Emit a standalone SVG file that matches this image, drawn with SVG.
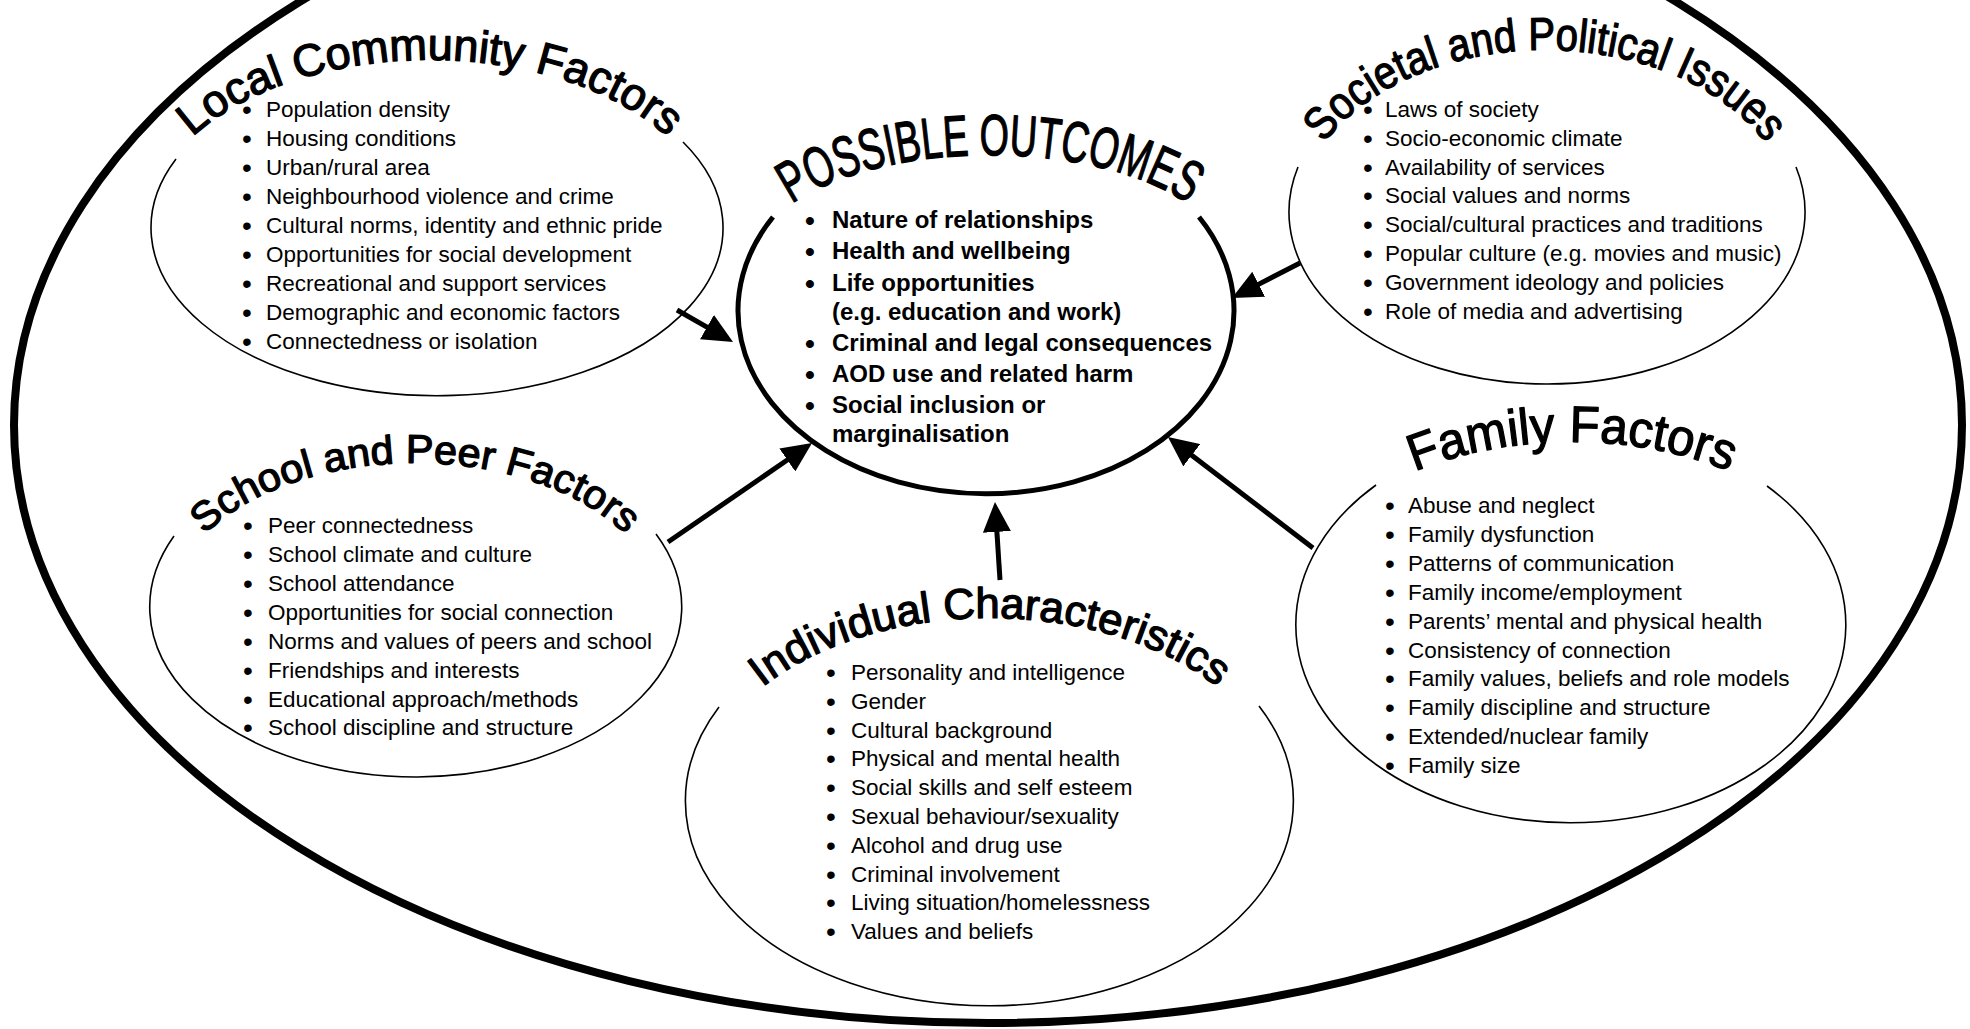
<svg xmlns="http://www.w3.org/2000/svg" width="1970" height="1029" viewBox="0 0 1970 1029">
<defs>
<style>
text{font-family:"Liberation Sans",Arial,sans-serif;fill:#000}
.li{font-size:22.5px}
.lb{font-size:24px;font-weight:bold}
.bu{font-size:28px}
.ttl{stroke:#000;stroke-width:1.3;stroke-linejoin:round}
.thin{fill:none;stroke:#000;stroke-width:1.6}
.thick{fill:none;stroke:#000;stroke-width:5}
.outer{fill:none;stroke:#000;stroke-width:8}
.arrow{stroke:#000;stroke-width:5;fill:none;marker-end:url(#ah)}
</style>
<marker id="ah" markerUnits="userSpaceOnUse" markerWidth="30" markerHeight="28" viewBox="0 0 30 28" refX="3" refY="14" orient="auto"><path d="M0,0L30,14L0,28z" fill="#000"/></marker>
<path id="pL" d="M145,232 A285,172 0 0 1 715,232"/>
<path id="pO" d="M750,267 A240,112 0 0 1 1230,267"/>
<path id="pS" d="M1295,225 A250,175 0 0 1 1795,225"/>
<path id="pSc" d="M165,618 A250,155 0 0 1 665,618"/>
<path id="pF" d="M1272,640 A300,198 0 0 1 1872,640"/>
<path id="pI" d="M700,800 A290,182 0 0 1 1280,800"/>
</defs>
<rect width="1970" height="1029" fill="#fff"/>
<g id="context">
<ellipse class="outer" cx="988" cy="425" rx="974" ry="598"/>
</g>
<g id="connectors">
<line class="arrow" x1="677" y1="310" x2="709.6" y2="328.6"/>
<line class="arrow" x1="668" y1="542" x2="789.8" y2="458.3"/>
<line class="arrow" x1="1000" y1="580" x2="996.7" y2="528.9"/>
<line class="arrow" x1="1300" y1="263" x2="1256" y2="285.6"/>
<line class="arrow" x1="1313" y1="548" x2="1189.4" y2="453.4"/>
</g>
<g id="outcomes">
<path class="thick" d="M773,217 A248,183 0 1 0 1199,217"/>
<text class="ttl" font-size="58" text-anchor="middle"><textPath href="#pO" startOffset="50%" textLength="414" lengthAdjust="spacingAndGlyphs">POSSIBLE OUTCOMES</textPath></text>
<g class="lb">
<text y="228"><tspan class="bu" x="805" dy="2">•</tspan><tspan x="832" dy="-2">Nature of relationships</tspan></text>
<text y="259"><tspan class="bu" x="805" dy="2">•</tspan><tspan x="832" dy="-2">Health and wellbeing</tspan></text>
<text y="291"><tspan class="bu" x="805" dy="2">•</tspan><tspan x="832" dy="-2">Life opportunities</tspan></text>
<text y="320" x="832">(e.g. education and work)</text>
<text y="351"><tspan class="bu" x="805" dy="2">•</tspan><tspan x="832" dy="-2">Criminal and legal consequences</tspan></text>
<text y="382"><tspan class="bu" x="805" dy="2">•</tspan><tspan x="832" dy="-2">AOD use and related harm</tspan></text>
<text y="413"><tspan class="bu" x="805" dy="2">•</tspan><tspan x="832" dy="-2">Social inclusion or</tspan></text>
<text y="442" x="832">marginalisation</text>
</g>
</g>
<g id="local">
<path class="thin" d="M176,159 A286,168 0 1 0 683,142"/>
<text class="ttl" font-size="45" text-anchor="middle"><textPath href="#pL" startOffset="50%" textLength="510" lengthAdjust="spacingAndGlyphs">Local Community Factors</textPath></text>
<g class="li">
<text y="117"><tspan class="bu" x="242" dy="2">•</tspan><tspan x="266" dy="-2">Population density</tspan></text>
<text y="146"><tspan class="bu" x="242" dy="2">•</tspan><tspan x="266" dy="-2">Housing conditions</tspan></text>
<text y="175"><tspan class="bu" x="242" dy="2">•</tspan><tspan x="266" dy="-2">Urban/rural area</tspan></text>
<text y="204"><tspan class="bu" x="242" dy="2">•</tspan><tspan x="266" dy="-2">Neighbourhood violence and crime</tspan></text>
<text y="233"><tspan class="bu" x="242" dy="2">•</tspan><tspan x="266" dy="-2">Cultural norms, identity and ethnic pride</tspan></text>
<text y="262"><tspan class="bu" x="242" dy="2">•</tspan><tspan x="266" dy="-2">Opportunities for social development</tspan></text>
<text y="291"><tspan class="bu" x="242" dy="2">•</tspan><tspan x="266" dy="-2">Recreational and support services</tspan></text>
<text y="320"><tspan class="bu" x="242" dy="2">•</tspan><tspan x="266" dy="-2">Demographic and economic factors</tspan></text>
<text y="349"><tspan class="bu" x="242" dy="2">•</tspan><tspan x="266" dy="-2">Connectedness or isolation</tspan></text>
</g>
</g>
<g id="societal">
<path class="thin" d="M1298,167 A258,172 0 1 0 1796,167"/>
<text class="ttl" font-size="46" text-anchor="middle"><textPath href="#pS" startOffset="50%" textLength="496" lengthAdjust="spacingAndGlyphs">Societal and Political Issues</textPath></text>
<g class="li">
<text y="117"><tspan class="bu" x="1363" dy="2">•</tspan><tspan x="1385" dy="-2">Laws of society</tspan></text>
<text y="146"><tspan class="bu" x="1363" dy="2">•</tspan><tspan x="1385" dy="-2">Socio-economic climate</tspan></text>
<text y="175"><tspan class="bu" x="1363" dy="2">•</tspan><tspan x="1385" dy="-2">Availability of services</tspan></text>
<text y="203"><tspan class="bu" x="1363" dy="2">•</tspan><tspan x="1385" dy="-2">Social values and norms</tspan></text>
<text y="232"><tspan class="bu" x="1363" dy="2">•</tspan><tspan x="1385" dy="-2">Social/cultural practices and traditions</tspan></text>
<text y="261"><tspan class="bu" x="1363" dy="2">•</tspan><tspan x="1385" dy="-2">Popular culture (e.g. movies and music)</tspan></text>
<text y="290"><tspan class="bu" x="1363" dy="2">•</tspan><tspan x="1385" dy="-2">Government ideology and policies</tspan></text>
<text y="319"><tspan class="bu" x="1363" dy="2">•</tspan><tspan x="1385" dy="-2">Role of media and advertising</tspan></text>
</g>
</g>
<g id="school">
<path class="thin" d="M174,536 A266,170 0 1 0 656,534"/>
<text class="ttl" font-size="40" text-anchor="middle"><textPath href="#pSc" startOffset="50%" textLength="455" lengthAdjust="spacingAndGlyphs">School and Peer Factors</textPath></text>
<g class="li">
<text y="533"><tspan class="bu" x="243" dy="2">•</tspan><tspan x="268" dy="-2">Peer connectedness</tspan></text>
<text y="562"><tspan class="bu" x="243" dy="2">•</tspan><tspan x="268" dy="-2">School climate and culture</tspan></text>
<text y="591"><tspan class="bu" x="243" dy="2">•</tspan><tspan x="268" dy="-2">School attendance</tspan></text>
<text y="620"><tspan class="bu" x="243" dy="2">•</tspan><tspan x="268" dy="-2">Opportunities for social connection</tspan></text>
<text y="649"><tspan class="bu" x="243" dy="2">•</tspan><tspan x="268" dy="-2">Norms and values of peers and school</tspan></text>
<text y="678"><tspan class="bu" x="243" dy="2">•</tspan><tspan x="268" dy="-2">Friendships and interests</tspan></text>
<text y="707"><tspan class="bu" x="243" dy="2">•</tspan><tspan x="268" dy="-2">Educational approach/methods</tspan></text>
<text y="735"><tspan class="bu" x="243" dy="2">•</tspan><tspan x="268" dy="-2">School discipline and structure</tspan></text>
</g>
</g>
<g id="family">
<path class="thin" d="M1376,485 A275,198 0 1 0 1767,486"/>
<text class="ttl" font-size="51" text-anchor="middle"><textPath href="#pF" startOffset="50%" textLength="322" lengthAdjust="spacingAndGlyphs">Family Factors</textPath></text>
<g class="li">
<text y="513"><tspan class="bu" x="1385" dy="2">•</tspan><tspan x="1408" dy="-2">Abuse and neglect</tspan></text>
<text y="542"><tspan class="bu" x="1385" dy="2">•</tspan><tspan x="1408" dy="-2">Family dysfunction</tspan></text>
<text y="571"><tspan class="bu" x="1385" dy="2">•</tspan><tspan x="1408" dy="-2">Patterns of communication</tspan></text>
<text y="600"><tspan class="bu" x="1385" dy="2">•</tspan><tspan x="1408" dy="-2">Family income/employment</tspan></text>
<text y="629"><tspan class="bu" x="1385" dy="2">•</tspan><tspan x="1408" dy="-2">Parents’ mental and physical health</tspan></text>
<text y="658"><tspan class="bu" x="1385" dy="2">•</tspan><tspan x="1408" dy="-2">Consistency of connection</tspan></text>
<text y="686"><tspan class="bu" x="1385" dy="2">•</tspan><tspan x="1408" dy="-2">Family values, beliefs and role models</tspan></text>
<text y="715"><tspan class="bu" x="1385" dy="2">•</tspan><tspan x="1408" dy="-2">Family discipline and structure</tspan></text>
<text y="744"><tspan class="bu" x="1385" dy="2">•</tspan><tspan x="1408" dy="-2">Extended/nuclear family</tspan></text>
<text y="773"><tspan class="bu" x="1385" dy="2">•</tspan><tspan x="1408" dy="-2">Family size</tspan></text>
</g>
</g>
<g id="individual">
<path class="thin" d="M719,707 A304,205 0 1 0 1259,706"/>
<text class="ttl" font-size="43" text-anchor="middle"><textPath href="#pI" startOffset="50%" textLength="484" lengthAdjust="spacingAndGlyphs">Individual Characteristics</textPath></text>
<g class="li">
<text y="680"><tspan class="bu" x="826" dy="2">•</tspan><tspan x="851" dy="-2">Personality and intelligence</tspan></text>
<text y="709"><tspan class="bu" x="826" dy="2">•</tspan><tspan x="851" dy="-2">Gender</tspan></text>
<text y="738"><tspan class="bu" x="826" dy="2">•</tspan><tspan x="851" dy="-2">Cultural background</tspan></text>
<text y="766"><tspan class="bu" x="826" dy="2">•</tspan><tspan x="851" dy="-2">Physical and mental health</tspan></text>
<text y="795"><tspan class="bu" x="826" dy="2">•</tspan><tspan x="851" dy="-2">Social skills and self esteem</tspan></text>
<text y="824"><tspan class="bu" x="826" dy="2">•</tspan><tspan x="851" dy="-2">Sexual behaviour/sexuality</tspan></text>
<text y="853"><tspan class="bu" x="826" dy="2">•</tspan><tspan x="851" dy="-2">Alcohol and drug use</tspan></text>
<text y="882"><tspan class="bu" x="826" dy="2">•</tspan><tspan x="851" dy="-2">Criminal involvement</tspan></text>
<text y="910"><tspan class="bu" x="826" dy="2">•</tspan><tspan x="851" dy="-2">Living situation/homelessness</tspan></text>
<text y="939"><tspan class="bu" x="826" dy="2">•</tspan><tspan x="851" dy="-2">Values and beliefs</tspan></text>
</g>
</g>
</svg>
